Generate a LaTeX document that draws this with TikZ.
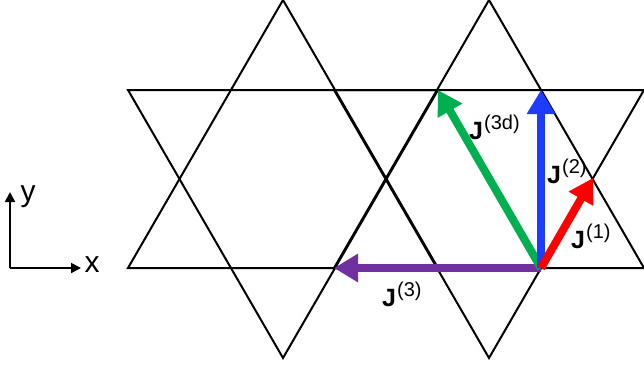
\documentclass[tikz,border=0pt]{standalone}
\usepackage{fontspec}
\setmainfont{Liberation Sans}
\usetikzlibrary{arrows.meta}
\definecolor{jred}{HTML}{FF0000}
\definecolor{jblue}{HTML}{1E3CFF}
\definecolor{jgreen}{HTML}{00B050}
\definecolor{jpurple}{HTML}{7030A0}
\newcommand{\jlab}[1]{\textbf{J}\kern1pt\raisebox{10pt}{\fontsize{20}{20}\selectfont(#1)}}
\tikzset{
  lat/.style={draw=black, line width=2pt, line join=miter},
  jarrow/.style={line width=8pt, -{Triangle[length=24pt,width=27pt]}},
  axarrow/.style={line width=2pt, -{Triangle[length=10pt,width=10pt]}},
  jlabel/.style={font=\fontsize{25}{27}\selectfont, inner sep=0pt, anchor=base west},
  axlabel/.style={font=\fontsize{30}{32}\selectfont, inner sep=0pt}
}
\begin{document}
\begin{tikzpicture}[x=1pt, y=-1pt]
\useasboundingbox (0,0) rectangle (644,368);
% lattice vertices
\coordinate (a1) at (283,0);   \coordinate (a2) at (128,268); \coordinate (a3) at (438,268);
\coordinate (b1) at (283,358); \coordinate (b2) at (128,90);  \coordinate (b3) at (438,90);
\coordinate (c1) at (489,0);   \coordinate (c2) at (334,268); \coordinate (c3) at (644,268);
\coordinate (d1) at (489,358); \coordinate (d2) at (334,90);  \coordinate (d3) at (644,90);
\draw[lat] (a1) -- (a2) -- (a3) -- cycle;
\draw[lat] (b1) -- (b2) -- (b3) -- cycle;
\draw[lat] (c1) -- (c2) -- (c3) -- cycle;
\draw[lat] (d1) -- (d2) -- (d3) -- cycle;
% bonds
\coordinate (O) at (541,268);
\coordinate (E1) at (593,178);
\coordinate (E2) at (541,90);
\coordinate (E3d) at (438,90);
\coordinate (E3) at (334,268);
\draw[jarrow, jpurple] (O) -- (E3);
\draw[jarrow, jgreen] (O) -- (E3d);
\draw[jarrow, jblue] (O) -- (E2);
\draw[jarrow, jred] (O) -- (E1);
\node[jlabel] (l3d) at (469,139) {\jlab{3d}};
\node[jlabel] (l2) at (547,183) {\jlab{2}};
\node[jlabel] (l1) at (571,248) {\jlab{1}};
\node[jlabel] (l3) at (382,306) {\jlab{3}};
% axes
\coordinate (ax0) at (10,268);
\coordinate (axy) at (10,192);
\coordinate (axx) at (81,268);
\draw[axarrow] (ax0) -- (axy);
\draw[axarrow] (ax0) -- (axx);
\node[axlabel] (ly) at (28,197) {y};
\node[axlabel] (lx) at (92,265) {x};
\end{tikzpicture}
\end{document}
